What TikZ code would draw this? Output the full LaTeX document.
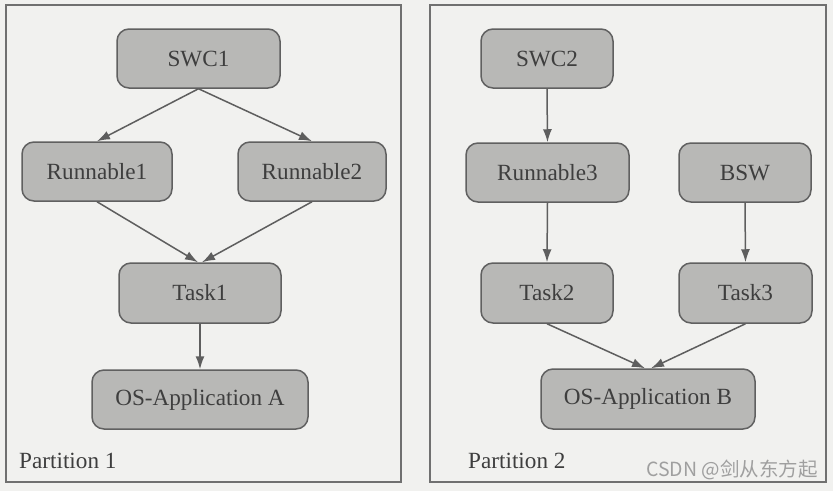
\documentclass[tikz,border=0pt]{standalone}
\usepackage{fontspec}
\setmainfont{Liberation Serif}
\newfontfamily\cjkfont{Noto Sans CJK SC}
\usetikzlibrary{arrows.meta}
\definecolor{bgc}{HTML}{F1F1EF}
\definecolor{boxfill}{HTML}{B8B8B6}
\definecolor{boxline}{HTML}{606060}
\definecolor{txt}{HTML}{3E3E3E}
\definecolor{arr}{HTML}{5E5E5E}
\definecolor{frm}{HTML}{707070}
\tikzset{
  blk/.style={draw=boxline, fill=boxfill, line width=1.5pt, rounded corners=12pt,
    inner sep=0pt, text=txt, font=\fontsize{23.2}{25}\selectfont},
  conn/.style={draw=arr, line width=1.5pt, -{Latex[length=13pt,width=9pt]}},
  part/.style={draw=frm, line width=2pt, fill=none, inner sep=0pt},
  plabel/.style={anchor=west, text=txt, inner sep=0pt, font=\fontsize{23.2}{25}\selectfont}
}
\begin{document}
\begin{tikzpicture}[x=1pt,y=-1pt]
\fill[bgc] (0,0) rectangle (833,491);
\useasboundingbox (0,0) rectangle (833,491);
% partitions
\node[part, minimum width=395pt, minimum height=477pt] (p1) at (203.5,243.5) {};
\node[part, minimum width=396pt, minimum height=477pt] (p2) at (628,243.5) {};
\node[plabel] (p1l) at (19,461) {Partition 1};
\node[plabel] (p2l) at (468,461) {Partition 2};
% partition 1 nodes
\node[blk, minimum width=163pt, minimum height=59pt] (swc1) at (198.5,58.5) {SWC1};
\node[blk, minimum width=150pt, minimum height=59pt] (r1) at (97,171.5) {Runnable1};
\node[blk, minimum width=148pt, minimum height=59pt] (r2) at (312,171.5) {Runnable2};
\node[blk, minimum width=162pt, minimum height=60pt] (t1) at (200,293) {Task1};
\node[blk, minimum width=216pt, minimum height=59pt] (osa) at (200,399.5) {OS-Application A};
% partition 2 nodes
\node[blk, minimum width=132pt, minimum height=59pt] (swc2) at (547,58.5) {SWC2};
\node[blk, minimum width=163pt, minimum height=59pt] (r3) at (547.5,172.5) {Runnable3};
\node[blk, minimum width=132pt, minimum height=59pt] (bsw) at (745,172.5) {BSW};
\node[blk, minimum width=132pt, minimum height=60pt] (t2) at (547,293) {Task2};
\node[blk, minimum width=133pt, minimum height=60pt] (t3) at (745.5,293) {Task3};
\node[blk, minimum width=214pt, minimum height=60pt] (osb) at (648,399) {OS-Application B};
% connectors
\draw[conn] (swc1.south) -- (r1.north);
\draw[conn] (swc1.south) -- (r2.north);
\draw[conn] (r1.south) -- ([xshift=-2pt]t1.north);
\draw[conn] (r2.south) -- ([xshift=2pt]t1.north);
\draw[conn] (t1.south) -- (osa.north);
\draw[conn] (swc2.south) -- (r3.north);
\draw[conn] (r3.south) -- (t2.north);
\draw[conn] (bsw.south) -- (t3.north);
\draw[conn] (t2.south) -- ([xshift=-3pt]osb.north);
\draw[conn] (t3.south) -- ([xshift=3pt]osb.north);
% watermark
\node[anchor=east, inner sep=0pt, text=gray!75, font=\cjkfont\fontsize{19.5}{21}\selectfont] (wm) at (818,470) {CSDN @剑从东方起};
\end{tikzpicture}
\end{document}
